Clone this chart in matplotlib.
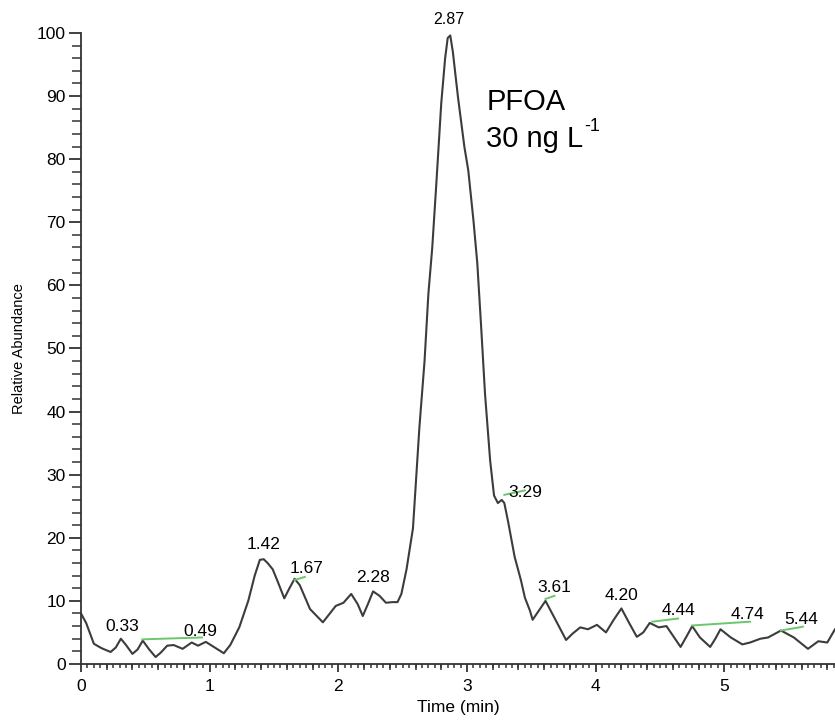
import matplotlib
matplotlib.use("Agg")
import matplotlib.pyplot as plt
from matplotlib.ticker import MultipleLocator, NullFormatter

plt.rcParams['font.family'] = ['Liberation Sans', 'DejaVu Sans']

# chromatogram trace (time in min, relative abundance)
time_min = [0.00, 0.04, 0.10, 0.16, 0.23, 0.27, 0.31, 0.35, 0.40, 0.44, 0.48, 0.53,
            0.58, 0.62, 0.67, 0.72, 0.79, 0.86, 0.91, 0.97, 1.04, 1.11, 1.16, 1.23,
            1.30, 1.35, 1.39, 1.42, 1.45, 1.49, 1.53, 1.58, 1.62, 1.66, 1.70, 1.78, 1.88,
            1.98, 2.04, 2.10, 2.15, 2.19, 2.23, 2.27, 2.32, 2.37, 2.42, 2.46, 2.49,
            2.53, 2.58, 2.63, 2.67, 2.70, 2.73, 2.76, 2.80, 2.83, 2.85, 2.87, 2.89, 2.93,
            2.98, 3.01, 3.05, 3.08, 3.11, 3.14, 3.18, 3.21, 3.24, 3.27, 3.29, 3.32,
            3.37, 3.42, 3.45, 3.49, 3.51, 3.56, 3.61, 3.68, 3.77, 3.82, 3.88, 3.94,
            4.01, 4.08, 4.14, 4.20, 4.26, 4.32, 4.37, 4.42, 4.49, 4.55, 4.60, 4.66,
            4.71, 4.75, 4.81, 4.89, 4.93, 4.97, 5.05, 5.14, 5.20, 5.28, 5.34, 5.44,
            5.54, 5.65, 5.73, 5.80, 5.86]
abundance = [8.0, 6.5, 3.2, 2.5, 1.9, 2.6, 4.0, 3.0, 1.6, 2.3, 3.7, 2.3,
             1.1, 1.8, 2.9, 3.0, 2.4, 3.4, 2.9, 3.5, 2.6, 1.7, 3.0, 5.8,
             10.0, 14.0, 16.5, 16.6, 16.0, 15.0, 13.0, 10.4, 12.0, 13.5, 12.5, 8.7, 6.6,
             9.2, 9.7, 11.1, 9.5, 7.6, 9.5, 11.5, 10.8, 9.7, 9.8, 9.8, 11.1,
             15.0, 21.5, 37.5, 48.0, 58.7, 66.0, 75.6, 88.9, 96.0, 99.2, 99.6, 97.0, 89.8,
             81.9, 78.2, 70.3, 63.5, 53.4, 42.8, 32.2, 26.7, 25.5, 26.0, 25.5, 22.5,
             17.0, 13.2, 10.5, 8.4, 7.0, 8.5, 10.0, 7.3, 3.8, 4.8, 5.8, 5.5,
             6.2, 5.0, 7.0, 8.8, 6.5, 4.3, 5.0, 6.5, 5.8, 6.0, 4.5, 2.7,
             4.5, 6.0, 4.2, 2.7, 4.0, 5.5, 4.2, 3.1, 3.4, 4.0, 4.2, 5.3,
             4.2, 2.4, 3.6, 3.4, 5.5]

# peak labels: text, x, y (label centre)
peak_labels = ["0.33", "0.49", "1.42", "1.67", "2.28", "2.87", "3.29", "3.61",
               "4.20", "4.44", "4.74", "5.44"]
label_x = [0.32, 0.93, 1.42, 1.75, 2.27, 2.86, 3.45, 3.68, 4.20, 4.64, 5.18, 5.60]
label_y = [6.0, 5.2, 18.9, 15.2, 13.7, 102.2, 27.1, 12.1, 10.8, 8.5, 7.9, 7.1]

# integration baselines (green): x0, y0, x1, y1
base_x0 = [0.477, 1.66, 3.29, 3.61, 4.44, 4.75, 5.44]
base_y0 = [3.9, 13.3, 26.8, 10.3, 6.7, 6.1, 5.3]
base_x1 = [0.94, 1.74, 3.45, 3.68, 4.64, 5.20, 5.61]
base_y1 = [4.2, 13.8, 27.5, 10.8, 7.2, 6.7, 5.9]

x_ticks = [0, 1, 2, 3, 4, 5]
y_ticks = [0, 10, 20, 30, 40, 50, 60, 70, 80, 90, 100]

fig = plt.figure(figsize=(8.35, 7.27), dpi=100)
ax = fig.add_axes([0.097, 0.0867, 0.903, 0.868])
ax.set_xlim(0, 5.86)
ax.set_ylim(0, 100)

ax.plot(time_min, abundance, color='#3c3c3c', lw=1.5, solid_joinstyle='round')
for xa, ya, xb, yb in zip(base_x0, base_y0, base_x1, base_y1):
    ax.plot([xa, xb], [ya, yb], color='#6cc66c', lw=1.4)
ax.set_xlim(0, 5.86)
ax.set_ylim(0, 100)

for txt, lx, ly in zip(peak_labels, label_x, label_y):
    fs = 11.5 if txt == "2.87" else 12.5
    ax.text(lx, ly, txt, ha='center', va='center', fontsize=fs, color='black')

ax.text(3.15, 87.8, "PFOA", fontsize=21, ha='left', va='baseline')
t2 = ax.text(3.15, 81.9, "30 ng L", fontsize=21, ha='left', va='baseline')
fig.canvas.draw()
bb = t2.get_window_extent()
x_end = ax.transData.inverted().transform((bb.x1, bb.y0))[0]
ax.text(x_end + 0.003, 84.4, "-1", fontsize=13, ha='left', va='baseline')

for s in ['top', 'right']:
    ax.spines[s].set_visible(False)
for s in ['left', 'bottom']:
    ax.spines[s].set_linewidth(1.3)
    ax.spines[s].set_color('#333333')

ax.set_xticks(x_ticks)
ax.set_yticks(y_ticks)
ax.set_xticklabels([str(v) for v in x_ticks])
ax.set_yticklabels([str(v) for v in y_ticks])
ax.xaxis.set_minor_locator(MultipleLocator(0.05))
ax.yaxis.set_minor_locator(MultipleLocator(2))
ax.tick_params(axis='x', which='major', length=6, width=1.3, labelsize=12.5, pad=5, colors='#333333', labelcolor='black')
ax.tick_params(axis='x', which='minor', length=3, width=1.1, colors='#333333')
ax.tick_params(axis='y', which='major', length=9, width=1.3, labelsize=12.5, pad=2, colors='#333333', labelcolor='black')
ax.tick_params(axis='y', which='minor', length=6.5, width=1.1, colors='#333333')

sec = ax.secondary_xaxis('bottom')
sec.set_xticks([v * 0.2 for v in range(30) if abs(v * 0.2 - round(v * 0.2)) > 1e-6])
sec.xaxis.set_major_formatter(NullFormatter())
sec.tick_params(axis='x', length=4.5, width=1.1, colors='#333333')
sec.spines['bottom'].set_visible(False)

ax.set_xlabel("Time (min)", fontsize=12.5, labelpad=4)
ax.set_ylabel("Relative Abundance", fontsize=10.5, labelpad=8)

fig.savefig("out.png", dpi=100)
